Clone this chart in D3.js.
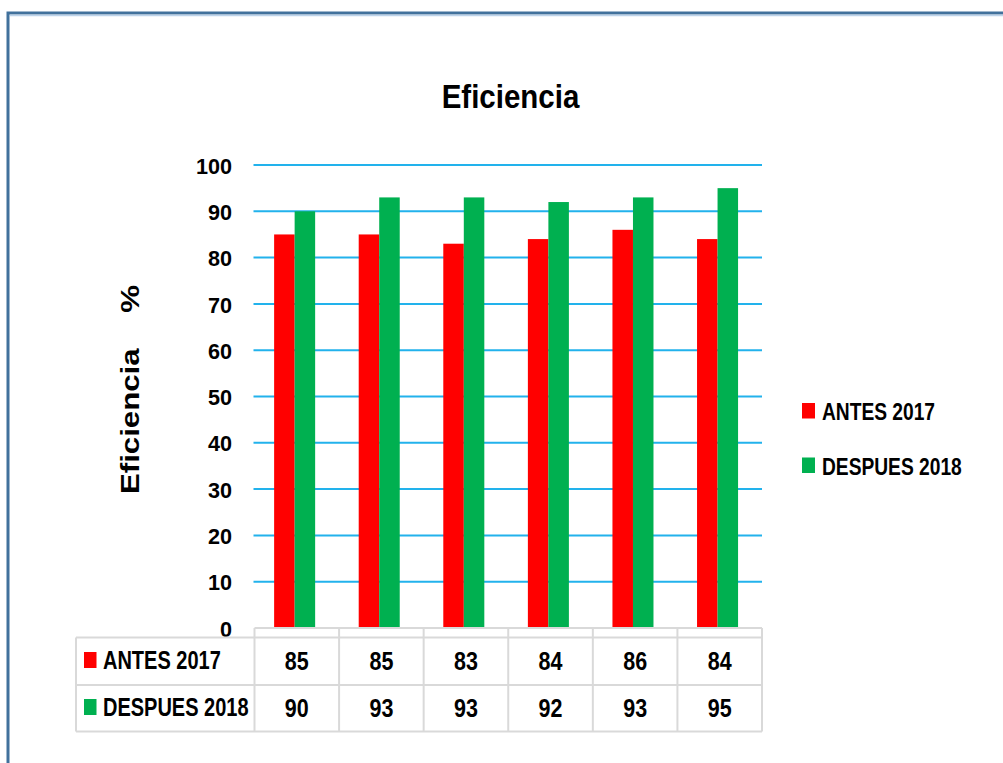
<!DOCTYPE html>
<html>
<head>
<meta charset="utf-8">
<script src="https://cdn.jsdelivr.net/npm/d3@7"></script>
<style>
  html, body { margin: 0; padding: 0; background: #fff; }
  svg { display: block; }
  .lbl { font-family: 'Liberation Sans', Arial, sans-serif; font-weight: bold; fill: #000; }
</style>
</head>
<body>
<svg id="chart" width="1003" height="763"></svg>
<script>
// Chart data
const categories = [1, 2, 3, 4, 5, 6];
const seriesNames = ["ANTES 2017", "DESPUES 2018"];
const antes2017 = [85, 85, 83, 84, 86, 84];
const despues2018 = [90, 93, 93, 92, 93, 95];
const yTicks = [0, 10, 20, 30, 40, 50, 60, 70, 80, 90, 100];
const seriesColors = ["#FF0000", "#00B050"];

const seriesValues = [antes2017, despues2018];

const svg = d3.select("#chart");

// Condensed bold text: placed at (x, y) and squeezed horizontally by sx
function condensed(parent, x, y, str, size, sx, anchor) {
  const g = parent.append("g").attr("transform", `translate(${x},${y}) scale(${sx},1)`);
  g.append("text")
    .attr("class", "lbl")
    .attr("font-size", size)
    .attr("text-anchor", anchor || "start")
    .text(str);
  return g;
}

// Outer frame
svg.append("rect")
  .attr("x", 8).attr("y", 13)
  .attr("width", 1010).attr("height", 780)
  .attr("fill", "none")
  .attr("stroke", "#41719C")
  .attr("stroke-width", 3);
svg.append("line")
  .attr("x1", 10).attr("x2", 1003).attr("y1", 15.5).attr("y2", 15.5)
  .attr("stroke", "#BDD3EA").attr("stroke-width", 1.5);

// Plot geometry
const plotLeft = 254.5, plotRight = 762, plotTop = 165, plotBottom = 628;

const x = d3.scaleBand().domain(categories).range([plotLeft, plotRight]).paddingInner(0).paddingOuter(0);
const sub = d3.scaleBand().domain(seriesNames)
  .range([x.bandwidth() * 0.232, x.bandwidth() * 0.717]);
const y = d3.scaleLinear().domain([0, 100]).range([plotBottom, plotTop]);

// Title
condensed(svg, 510.5, 108, "Eficiencia", 33.5, 0.88, "middle");

// Gridlines
svg.append("g")
  .selectAll("line")
  .data(yTicks.filter(d => d > 0))
  .join("line")
  .attr("x1", plotLeft - 1).attr("x2", plotRight)
  .attr("y1", d => y(d)).attr("y2", d => y(d))
  .attr("stroke", "#22B2EC").attr("stroke-width", 2);

// Y axis tick labels
const yAxis = d3.axisLeft(y).tickValues(yTicks).tickSize(0).tickPadding(0).tickFormat(d3.format("d"));
const yAxisG = svg.append("g")
  .attr("transform", "translate(232,0)")
  .call(yAxis);
yAxisG.select(".domain").remove();
yAxisG.attr("font-family", null).attr("font-size", null);
yAxisG.selectAll("text")
  .attr("class", "lbl")
  .attr("font-size", 22.5)
  .attr("dy", "0.36em")
  .attr("transform", "scale(0.96,1)");

// Y axis title (reads bottom to top)
const yTitle = svg.append("g").attr("transform", "translate(139,494) rotate(-90) scale(1.2,1)");
yTitle.append("text")
  .attr("font-family", "'Liberation Sans', Arial, sans-serif")
  .attr("font-weight", "bold")
  .attr("font-size", 26)
  .attr("fill", "#000")
  .text("Eficiencia");
yTitle.append("text")
  .attr("x", 151)
  .attr("font-family", "'Liberation Sans', Arial, sans-serif")
  .attr("font-weight", "bold")
  .attr("font-size", 26)
  .attr("fill", "#000")
  .text("%");

// Bars
const groups = svg.append("g")
  .selectAll("g")
  .data(categories)
  .join("g")
  .attr("transform", d => `translate(${x(d)},0)`);

groups.selectAll("rect")
  .data((d, i) => seriesNames.map((s, k) => ({ s, k, v: seriesValues[k][i] })))
  .join("rect")
  .attr("x", d => sub(d.s))
  .attr("width", sub.bandwidth())
  .attr("y", d => y(d.v))
  .attr("height", d => y(0) - y(d.v))
  .attr("fill", d => seriesColors[d.k]);

// Data table beneath the plot
const tableLeft = 76;
const rowTop = [637.5, 685];
const rowBottom = 731.5;
const gridColor = "#D9D9D9";
const table = svg.append("g").attr("stroke", gridColor).attr("stroke-width", 2).attr("fill", "none");

table.append("line").attr("x1", plotLeft).attr("x2", plotRight).attr("y1", plotBottom).attr("y2", plotBottom);
[rowTop[0], rowTop[1], rowBottom].forEach(yy => {
  table.append("line").attr("x1", tableLeft).attr("x2", plotRight).attr("y1", yy).attr("y2", yy);
});
table.append("line").attr("x1", tableLeft).attr("x2", tableLeft).attr("y1", rowTop[0]).attr("y2", rowBottom);
categories.forEach(c => {
  table.append("line").attr("x1", x(c)).attr("x2", x(c)).attr("y1", plotBottom).attr("y2", rowBottom);
});
table.append("line").attr("x1", plotRight).attr("x2", plotRight).attr("y1", plotBottom).attr("y2", rowBottom);

// Row labels with colour keys and values
const rowBaselines = [670, 717];
seriesNames.forEach((name, k) => {
  const base = rowBaselines[k];
  svg.append("rect")
    .attr("x", 84).attr("y", base - 18)
    .attr("width", 12.5).attr("height", 16)
    .attr("fill", seriesColors[k]);
  condensed(svg, 103, base - 1, name, 25, 0.8, "start");
  categories.forEach((c, i) => {
    condensed(svg, x(c) + x.bandwidth() / 2, base, seriesValues[k][i], 25, 0.86, "middle");
  });
});

// Legend
seriesNames.forEach((name, k) => {
  const yy = 403 + k * 54.5;
  svg.append("rect")
    .attr("x", 802).attr("y", yy)
    .attr("width", 13).attr("height", 15.5)
    .attr("fill", seriesColors[k]);
  condensed(svg, 822, yy + 17, name, 24, 0.8, "start");
});
</script>
</body>
</html>
